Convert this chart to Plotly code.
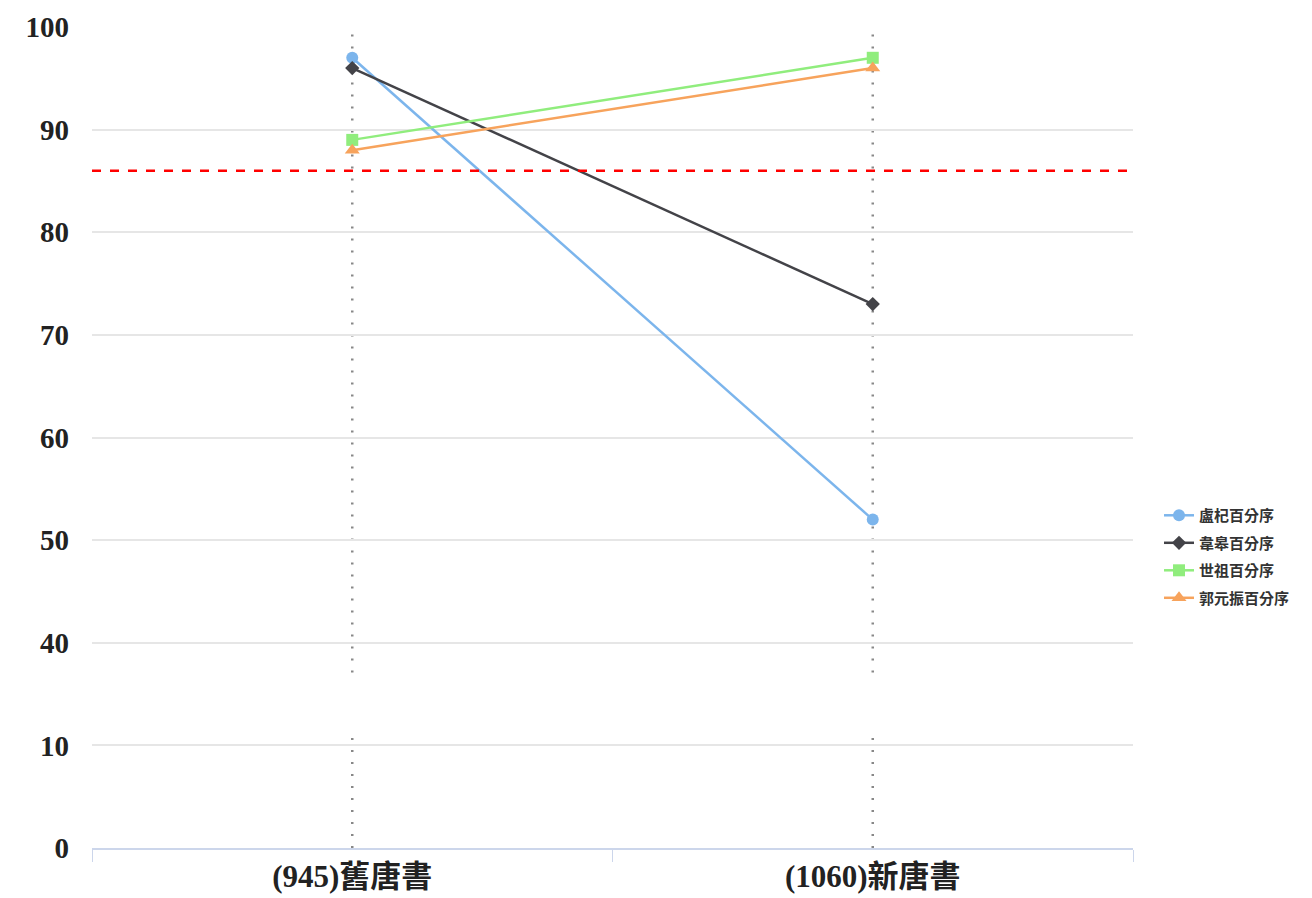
import plotly.graph_objects as go

categories = ["(945)舊唐書", "(1060)新唐書"]
series_names = ["盧杞百分序", "韋皋百分序", "世祖百分序", "郭元振百分序"]
lu_qi = [97, 52]
wei_gao = [96, 73]
shi_zu = [89, 97]
guo_yuanzhen = [88, 96]
tick_values = [0, 10, 40, 50, 60, 70, 80, 90, 100]
reference_value = 86

colors = ["#7cb5ec", "#434348", "#90ed7d", "#f7a35c"]
symbols = ["circle", "diamond", "square", "triangle-up"]
msizes = [12, 11, 12, 13]

# broken axis: 0 and 10 at the bottom, 40..100 evenly above
def tf(v):
    if v <= 10:
        return v / 10.0
    if v < 40:
        return 1 + (v - 10) / 30.0
    return 2 + (v - 40) / 10.0

fig = go.Figure()
for i, (name, vals, c, s, ms) in enumerate(zip(series_names, [lu_qi, wei_gao, shi_zu, guo_yuanzhen], colors, symbols, msizes)):
    fig.add_trace(go.Scatter(
        x=categories, y=[tf(v) for v in vals], name=name, mode="lines+markers",
        legendgroup=f"g{i}",
        line=dict(color=c, width=2.5),
        marker=dict(symbol=s, size=ms, color=c),
        customdata=vals, hovertemplate="%{customdata}<extra>" + name + "</extra>",
    ))

# dotted vertical lines at categories with a gap at the axis break
for cat in categories:
    for y0, y1 in [(0, 1.17), (1.71, 8)]:
        fig.add_shape(type="line", xref="x", yref="y", x0=cat, x1=cat, y0=y0, y1=y1,
                      line=dict(color="#888888", width=2.5, dash="2px,10px"), layer="below")

fig.add_shape(type="line", xref="paper", yref="y", x0=0, x1=1,
              y0=tf(reference_value), y1=tf(reference_value),
              line=dict(color="#ff0000", width=2.5, dash="dash"))

fig.update_layout(
    width=1312, height=898,
    margin=dict(l=84, r=187, t=19, b=58, autoexpand=False),
    plot_bgcolor="white", paper_bgcolor="white",
    showlegend=True,
    legend=dict(x=1.025, xanchor="left", y=0.355, yanchor="middle",
                font=dict(family="Noto Sans CJK TC", size=15, color="#333333", weight="bold"),
                traceorder="grouped", tracegroupgap=5, itemwidth=30, bgcolor="rgba(0,0,0,0)"),
    xaxis=dict(type="category", range=[-0.5, 1.5], showgrid=False, automargin=False,
               showline=True, linecolor="#ccd6eb", linewidth=1.5,
               ticks="outside", tickson="boundaries", ticklen=12, tickcolor="#ccd6eb",
               tickfont=dict(family="Liberation Serif, Noto Sans CJK TC", size=31, color="#222222", weight="bold")),
    yaxis=dict(range=[0, 8], tickvals=[tf(v) for v in tick_values], automargin=False,
               ticktext=[str(v) for v in tick_values],
               showgrid=True, gridcolor="#e6e6e6", gridwidth=1.5, zeroline=False,
               showline=False, ticks="", ticklabelstandoff=22,
               tickfont=dict(family="Liberation Serif", size=29, color="#222222", weight="bold")),
)

fig.write_html("out.html")
